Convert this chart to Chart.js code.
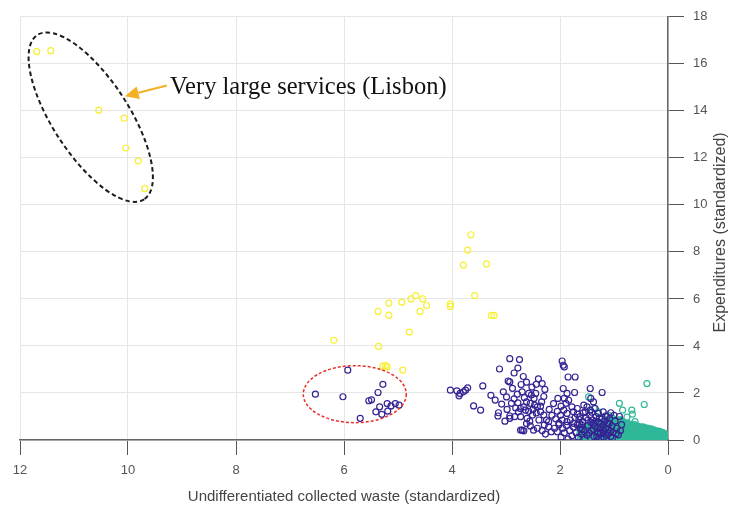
<!DOCTYPE html>
<html>
<head>
<meta charset="utf-8">
<script src="https://cdn.jsdelivr.net/npm/chart.js@4/dist/chart.umd.min.js"></script>
<style>
  html, body { margin: 0; padding: 0; background: #ffffff; }
  canvas { display: block; }
</style>
</head>
<body>
<canvas id="chart" width="730" height="513"></canvas>
<script>
// Cluster 3: very large / large services (x = waste, y = expenditures, standardized)
const largeServices = [
  [11.69, 16.52], [11.43, 16.56], [10.54, 14.03], [10.07, 13.69], [10.04, 12.42], [9.81, 11.87], [9.69, 10.69],
  [3.65, 8.73], [3.71, 8.08], [3.79, 7.44], [3.36, 7.49], [3.58, 6.14], [3.27, 5.30], [3.22, 5.30],
  [4.03, 5.79], [4.03, 5.68], [4.67, 6.14], [4.76, 6.00], [4.54, 6.00], [4.47, 5.72], [4.59, 5.47],
  [4.93, 5.86], [5.17, 5.82], [5.17, 5.31], [5.37, 5.47], [4.79, 4.59], [6.19, 4.24], [5.36, 3.98],
  [5.28, 3.14], [5.20, 3.11], [5.23, 3.16], [4.91, 2.97]
];

// Cluster 1: medium services
const mediumServices = [
  [5.93, 2.97], [6.53, 1.95], [6.02, 1.84], [5.28, 2.37], [5.37, 2.02], [5.54, 1.67], [5.49, 1.71], [5.70, 0.92],
  [5.34, 1.41], [5.20, 1.55], [5.13, 1.45], [5.05, 1.55], [4.98, 1.48], [5.41, 1.20], [5.30, 1.09], [5.19, 1.23],
  [4.03, 2.12], [3.91, 2.09], [3.85, 1.98], [3.79, 2.05], [3.75, 2.12], [3.71, 2.22], [3.87, 1.88], [3.43, 2.30],
  [3.60, 1.45], [3.47, 1.27], [3.12, 3.02], [2.93, 3.46], [2.75, 3.42], [2.78, 3.06], [2.96, 2.51], [2.93, 2.47],
  [2.72, 2.36], [2.62, 2.46], [2.40, 2.60], [2.44, 2.37], [3.14, 1.16], [3.15, 1.02], [3.08, 1.53], [2.99, 1.83],
  [2.93, 1.02], [2.90, 1.56], [2.79, 1.95], [2.78, 1.58], [2.82, 1.36], [2.77, 1.20], [2.73, 1.34], [2.67, 1.41],
  [2.64, 1.27], [2.58, 1.98], [2.53, 1.91], [2.48, 1.77], [2.45, 1.98], [2.62, 1.62], [2.55, 1.56], [2.47, 1.48],
  [2.42, 1.41], [2.36, 1.44], [2.28, 2.15], [2.36, 1.20], [2.30, 1.06], [2.25, 0.85], [2.21, 0.78], [2.73, 0.99],
  [2.61, 0.92], [2.51, 1.06], [2.39, 0.85], [2.93, 0.92], [2.84, 0.99], [2.73, 0.42], [2.70, 0.42], [2.67, 0.39],
  [2.49, 0.42], [2.42, 0.50], [2.27, 0.25], [2.29, 0.64], [2.21, 0.56], [2.10, 0.50], [2.04, 1.77], [1.96, 3.36],
  [1.94, 3.18], [1.92, 3.11], [1.85, 2.68], [1.72, 2.68], [1.94, 2.19], [1.87, 1.98], [1.84, 1.69], [1.89, 1.56],
  [1.92, 1.77], [1.73, 2.02], [1.98, 1.44], [1.93, 1.27], [1.87, 1.13], [1.78, 1.41], [1.75, 1.20], [1.68, 1.34],
  [1.63, 0.99], [1.56, 1.48], [1.53, 1.20], [1.96, 0.85], [1.87, 0.78], [1.81, 0.85], [1.75, 0.71], [1.68, 0.64],
  [1.60, 0.64], [1.44, 2.19], [1.22, 2.02], [1.43, 1.77], [1.38, 1.62], [1.50, 1.41], [1.44, 1.27], [1.35, 1.34],
  [1.29, 1.13], [1.20, 1.20], [1.13, 0.99], [1.06, 1.16], [1.38, 0.71], [1.25, 0.56], [1.20, 0.28], [1.32, 0.14],
  [3.20, 1.70], [3.05, 2.05], [2.88, 2.20], [2.70, 2.05], [2.66, 1.80], [2.85, 1.75], [2.58, 1.22], [2.50, 1.30],
  [2.44, 1.15], [2.56, 0.80], [2.34, 1.62], [2.30, 1.85], [2.20, 1.30], [2.15, 1.05], [2.12, 1.55], [2.08, 0.90],
  [2.05, 1.22], [2.02, 0.65], [1.99, 1.05], [2.16, 0.35], [2.33, 0.40], [2.55, 0.60], [2.62, 0.70], [2.98, 1.30],
  [3.02, 0.80], [3.28, 1.90], [2.52, 2.25], [2.68, 2.70], [2.85, 2.85], [2.33, 2.40],
  [1.70, 0.30], [1.66, 0.12], [1.62, 0.52], [1.58, 0.78], [1.55, 0.35], [1.52, 0.95], [1.50, 0.20], [1.48, 0.62],
  [1.45, 1.05], [1.42, 0.40], [1.40, 0.85], [1.37, 0.15], [1.35, 0.58], [1.33, 1.00], [1.30, 0.30], [1.28, 0.75],
  [1.26, 0.48], [1.24, 0.10], [1.22, 0.90], [1.20, 0.62], [1.18, 0.35], [1.16, 1.02], [1.14, 0.20], [1.12, 0.70],
  [1.10, 0.45], [1.08, 0.92], [1.06, 0.15], [1.04, 0.60], [1.02, 0.32], [0.98, 0.80], [0.95, 0.50], [0.92, 0.22],
  [0.90, 1.00], [0.86, 0.65], [1.75, 0.55], [1.78, 0.18], [1.82, 0.40], [1.85, 0.05], [1.88, 0.62], [1.92, 0.30],
  [1.95, 0.50], [1.98, 0.12], [2.02, 0.72], [2.05, 0.35], [1.72, 0.95], [1.68, 1.10], [1.64, 0.70], [1.60, 0.25],
  [1.57, 1.15], [1.54, 0.05], [1.46, 0.30], [1.43, 0.75], [1.38, 0.45], [1.34, 0.80], [1.29, 0.05], [1.25, 0.30],
  [1.19, 0.12], [1.15, 0.50], [1.11, 0.28], [1.07, 0.38], [1.03, 0.08], [1.65, 0.88], [1.59, 0.45], [1.48, 0.85],
  [1.41, 1.18], [1.31, 0.50], [1.27, 0.92], [1.21, 0.45], [1.17, 0.80], [1.09, 0.70], [1.00, 1.05], [0.96, 0.28],
  [0.88, 0.40]
];

// Cluster 2: small services (dense mass near the origin)
const smallServices = [
  [0.39, 2.40], [0.44, 1.51], [1.47, 1.83], [0.90, 1.56], [0.84, 1.27], [0.67, 1.27], [0.66, 1.10], [1.37, 1.34],
  [1.29, 1.20], [0.61, 0.78], [1.03, 0.93], [1.11, 1.06], [0.76, 0.97],
  [1.62, 0.05], [1.60, 0.18], [1.63, 0.30], [1.61, 0.42],
  [1.57, 0.10], [1.56, 0.24], [1.58, 0.36], [1.55, 0.50],
  [1.52, 0.03], [1.51, 0.16], [1.53, 0.29], [1.52, 0.41], [1.50, 0.55],
  [1.47, 0.08], [1.46, 0.21], [1.48, 0.34], [1.47, 0.47], [1.45, 0.60],
  [1.42, 0.02], [1.41, 0.14], [1.43, 0.27], [1.42, 0.39], [1.40, 0.52], [1.41, 0.64],
  [1.37, 0.07], [1.36, 0.19], [1.38, 0.32], [1.37, 0.45], [1.35, 0.57], [1.36, 0.68],
  [1.32, 0.04], [1.31, 0.15], [1.33, 0.28], [1.32, 0.40], [1.30, 0.53], [1.31, 0.66],
  [1.27, 0.09], [1.26, 0.22], [1.28, 0.35], [1.27, 0.48], [1.25, 0.61], [1.26, 0.72],
  [1.22, 0.03], [1.21, 0.16], [1.23, 0.29], [1.22, 0.42], [1.20, 0.55], [1.21, 0.68], [1.23, 0.76],
  [1.17, 0.08], [1.16, 0.21], [1.18, 0.34], [1.17, 0.46], [1.15, 0.59], [1.16, 0.71],
  [1.12, 0.02], [1.11, 0.14], [1.13, 0.27], [1.12, 0.40], [1.10, 0.53], [1.11, 0.66], [1.13, 0.79],
  [1.07, 0.07], [1.06, 0.19], [1.08, 0.32], [1.07, 0.45], [1.05, 0.58], [1.06, 0.70], [1.08, 0.81],
  [1.02, 0.04], [1.01, 0.16], [1.03, 0.29], [1.02, 0.42], [1.00, 0.55], [1.01, 0.67], [1.03, 0.80],
  [0.97, 0.09], [0.96, 0.22], [0.98, 0.35], [0.97, 0.48], [0.95, 0.61], [0.96, 0.74], [0.98, 0.84],
  [0.92, 0.03], [0.91, 0.15], [0.93, 0.28], [0.92, 0.41], [0.90, 0.54], [0.91, 0.67], [0.93, 0.80],
  [0.87, 0.08], [0.86, 0.20], [0.88, 0.33], [0.87, 0.46], [0.85, 0.59], [0.86, 0.72], [0.88, 0.83],
  [0.82, 0.02], [0.81, 0.14], [0.83, 0.27], [0.82, 0.40], [0.80, 0.53], [0.81, 0.66], [0.83, 0.77],
  [0.77, 0.07], [0.76, 0.19], [0.78, 0.32], [0.77, 0.45], [0.75, 0.58], [0.76, 0.71],
  [0.72, 0.04], [0.71, 0.16], [0.73, 0.29], [0.72, 0.42], [0.70, 0.55], [0.71, 0.68],
  [0.67, 0.09], [0.66, 0.21], [0.68, 0.34], [0.67, 0.47], [0.65, 0.60],
  [0.62, 0.03], [0.61, 0.15], [0.63, 0.28], [0.62, 0.41], [0.60, 0.54], [0.61, 0.64],
  [0.57, 0.08], [0.56, 0.20], [0.58, 0.33], [0.57, 0.46], [0.55, 0.58],
  [0.52, 0.02], [0.51, 0.14], [0.53, 0.27], [0.52, 0.40], [0.50, 0.53],
  [0.47, 0.07], [0.46, 0.19], [0.48, 0.32], [0.47, 0.45], [0.45, 0.55],
  [0.42, 0.04], [0.41, 0.16], [0.43, 0.29], [0.42, 0.42], [0.40, 0.50],
  [0.37, 0.09], [0.36, 0.21], [0.38, 0.34], [0.37, 0.47],
  [0.32, 0.03], [0.31, 0.15], [0.33, 0.28], [0.32, 0.41], [0.30, 0.46],
  [0.27, 0.08], [0.26, 0.20], [0.28, 0.33], [0.27, 0.43],
  [0.22, 0.02], [0.21, 0.14], [0.23, 0.27], [0.22, 0.39],
  [0.17, 0.07], [0.16, 0.19], [0.18, 0.31], [0.17, 0.38],
  [0.12, 0.04], [0.11, 0.16], [0.13, 0.27], [0.12, 0.34],
  [0.07, 0.09], [0.06, 0.20], [0.08, 0.29],
  [0.03, 0.03], [0.02, 0.14], [0.04, 0.22],
  [1.59, 0.00], [1.59, 0.12], [1.60, 0.24], [1.58, 0.36],
  [1.54, 0.04], [1.55, 0.17], [1.54, 0.30], [1.53, 0.44],
  [1.49, 0.10], [1.50, 0.22], [1.49, 0.35], [1.50, 0.48],
  [1.44, 0.02], [1.45, 0.15], [1.44, 0.28], [1.45, 0.41], [1.43, 0.54],
  [1.39, 0.08], [1.40, 0.21], [1.39, 0.33], [1.40, 0.46], [1.38, 0.59],
  [1.34, 0.01], [1.35, 0.13], [1.34, 0.26], [1.35, 0.38], [1.33, 0.51], [1.34, 0.63],
  [1.29, 0.06], [1.30, 0.18], [1.29, 0.31], [1.30, 0.44], [1.28, 0.57], [1.29, 0.67],
  [1.24, 0.02], [1.25, 0.14], [1.24, 0.27], [1.25, 0.40], [1.23, 0.53], [1.24, 0.66], [1.25, 0.72],
  [1.19, 0.09], [1.20, 0.22], [1.19, 0.35], [1.20, 0.48], [1.18, 0.61], [1.19, 0.74],
  [1.14, 0.05], [1.15, 0.17], [1.14, 0.30], [1.15, 0.43], [1.13, 0.56], [1.14, 0.69], [1.15, 0.77],
  [1.09, 0.00], [1.10, 0.12], [1.09, 0.25], [1.10, 0.38], [1.08, 0.51], [1.09, 0.64], [1.10, 0.76],
  [1.04, 0.10], [1.05, 0.23], [1.04, 0.36], [1.05, 0.49], [1.03, 0.62], [1.04, 0.74], [1.05, 0.83],
  [0.99, 0.02], [1.00, 0.14], [0.99, 0.27], [1.00, 0.40], [0.98, 0.53], [0.99, 0.66], [1.00, 0.78], [0.99, 0.86],
  [0.94, 0.08], [0.95, 0.21], [0.94, 0.34], [0.95, 0.47], [0.93, 0.60], [0.94, 0.73], [0.95, 0.84],
  [0.89, 0.01], [0.90, 0.13], [0.89, 0.26], [0.90, 0.39], [0.88, 0.52], [0.89, 0.65], [0.90, 0.78], [0.89, 0.87],
  [0.84, 0.06], [0.85, 0.19], [0.84, 0.32], [0.85, 0.45], [0.83, 0.58], [0.84, 0.71], [0.85, 0.81],
  [0.79, 0.02], [0.80, 0.13], [0.79, 0.26], [0.80, 0.39], [0.78, 0.52], [0.79, 0.64], [0.80, 0.74],
  [0.74, 0.09], [0.75, 0.22], [0.74, 0.35], [0.75, 0.48], [0.73, 0.61], [0.74, 0.70],
  [0.69, 0.01], [0.70, 0.13], [0.69, 0.26], [0.70, 0.39], [0.68, 0.51], [0.69, 0.63],
  [0.64, 0.06], [0.65, 0.18], [0.64, 0.31], [0.65, 0.44], [0.63, 0.56], [0.64, 0.66],
  [0.59, 0.00], [0.60, 0.12], [0.59, 0.25], [0.60, 0.38], [0.58, 0.50], [0.59, 0.60],
  [0.54, 0.05], [0.55, 0.17], [0.54, 0.30], [0.55, 0.43], [0.53, 0.55],
  [0.49, 0.10], [0.50, 0.22], [0.49, 0.35], [0.50, 0.47], [0.48, 0.56],
  [0.44, 0.01], [0.45, 0.13], [0.44, 0.26], [0.45, 0.38], [0.43, 0.49],
  [0.39, 0.06], [0.40, 0.18], [0.39, 0.31], [0.40, 0.43], [0.38, 0.51],
  [0.34, 0.00], [0.35, 0.12], [0.34, 0.25], [0.35, 0.37], [0.33, 0.47],
  [0.29, 0.05], [0.30, 0.17], [0.29, 0.30], [0.30, 0.42],
  [0.24, 0.10], [0.25, 0.22], [0.24, 0.34], [0.25, 0.41],
  [0.19, 0.01], [0.20, 0.12], [0.19, 0.24], [0.20, 0.35],
  [0.14, 0.05], [0.15, 0.17], [0.14, 0.29], [0.15, 0.36],
  [0.09, 0.00], [0.10, 0.12], [0.09, 0.24], [0.10, 0.31],
  [0.05, 0.06], [0.04, 0.17], [0.05, 0.26],
  [0.01, 0.02], [0.01, 0.10], [0.01, 0.18]
];

// Axis ticks
const xTicks = [0, 2, 4, 6, 8, 10, 12];
const yTicks = [0, 2, 4, 6, 8, 10, 12, 14, 16, 18];

const xTitle = 'Undifferentiated collected waste (standardized)';
const yTitle = 'Expenditures (standardized)';
const calloutText = 'Very large services (Lisbon)';

const toPoints = arr => arr.map(([x, y]) => ({ x, y }));

// Callout shapes, anchored in data coordinates; sizes in pixels
const callouts = {
  lisbon:  { cx: 10.69, cy: 13.73, rx: 98, ry: 38, rot: 57 * Math.PI / 180, color: '#1c1c1c', dash: [4.5, 3], width: 2 },
  medium:  { cx: 5.80, cy: 1.95, rx: 51.5, ry: 28.5, rot: 0, color: '#e8302a', dash: [3, 2], width: 1.5 },
  arrow:   { fromX: 9.28, fromY: 15.08, toX: 10.06, toY: 14.62, color: '#f4b125' },
  label:   { x: 9.22, y: 14.70 }
};

const calloutPlugin = {
  id: 'callouts',
  afterDatasetsDraw(chart) {
    const { ctx, scales: { x, y } } = chart;
    ctx.save();
    for (const key of ['lisbon', 'medium']) {
      const e = callouts[key];
      ctx.beginPath();
      ctx.setLineDash(e.dash);
      ctx.lineWidth = e.width;
      ctx.strokeStyle = e.color;
      ctx.ellipse(x.getPixelForValue(e.cx), y.getPixelForValue(e.cy), e.rx, e.ry, e.rot, 0, Math.PI * 2);
      ctx.stroke();
    }
    ctx.setLineDash([]);

    // arrow
    const a = callouts.arrow;
    const x0 = x.getPixelForValue(a.fromX), y0 = y.getPixelForValue(a.fromY);
    const x1 = x.getPixelForValue(a.toX), y1 = y.getPixelForValue(a.toY);
    const ang = Math.atan2(y1 - y0, x1 - x0);
    const headLen = 14, headHalf = 6.5;
    const bx = x1 - headLen * Math.cos(ang), by = y1 - headLen * Math.sin(ang);
    ctx.strokeStyle = a.color;
    ctx.fillStyle = a.color;
    ctx.lineWidth = 2;
    ctx.beginPath();
    ctx.moveTo(x0, y0);
    ctx.lineTo(bx, by);
    ctx.stroke();
    ctx.beginPath();
    ctx.moveTo(x1, y1);
    ctx.lineTo(bx + headHalf * Math.sin(ang), by - headHalf * Math.cos(ang));
    ctx.lineTo(bx - headHalf * Math.sin(ang), by + headHalf * Math.cos(ang));
    ctx.closePath();
    ctx.fill();

    // label
    ctx.fillStyle = '#111111';
    ctx.font = '24.5px "Liberation Serif", "DejaVu Serif", serif';
    ctx.textAlign = 'left';
    ctx.textBaseline = 'alphabetic';
    ctx.fillText(calloutText, x.getPixelForValue(callouts.label.x), y.getPixelForValue(callouts.label.y));
    ctx.restore();
  },
  afterDraw(chart) {
    // vertical axis title, reading bottom to top
    const { ctx, chartArea } = chart;
    ctx.save();
    ctx.translate(721, (chartArea.top + chartArea.bottom) / 2 + 4);
    ctx.rotate(-Math.PI / 2);
    ctx.fillStyle = '#444444';
    ctx.font = '16px "Liberation Sans", Arial, sans-serif';
    ctx.textAlign = 'center';
    ctx.textBaseline = 'middle';
    ctx.fillText(yTitle, 0, 0);
    ctx.restore();
  }
};

const ringStyle = (color) => ({
  showLine: false,
  pointStyle: 'circle',
  pointRadius: 3,
  pointHoverRadius: 3,
  borderWidth: 1.2,
  pointBorderWidth: 1.2,
  borderColor: color,
  pointBorderColor: color,
  backgroundColor: 'rgba(0,0,0,0)',
  pointBackgroundColor: 'rgba(0,0,0,0)'
});

Chart.defaults.font.family = '"Liberation Sans", Arial, sans-serif';

new Chart(document.getElementById('chart'), {
  type: 'scatter',
  data: {
    datasets: [
      { label: 'Large', data: toPoints(largeServices), order: 0, ...ringStyle('rgb(246,240,52)') },
      { label: 'Medium', data: toPoints(mediumServices), order: 1, ...ringStyle('rgb(52,36,148)') },
      { label: 'Small', data: toPoints(smallServices), order: 2, ...ringStyle('rgb(48,184,152)') }
    ]
  },
  options: {
    responsive: false,
    animation: false,
    devicePixelRatio: 1,
    layout: { padding: { left: 20, top: 14, right: 0, bottom: 0 } },
    plugins: { legend: { display: false }, tooltip: { enabled: false } },
    scales: {
      x: {
        type: 'linear',
        position: 'bottom',
        reverse: true,
        min: 0,
        max: 12,
        afterBuildTicks: s => { s.ticks = xTicks.map(v => ({ value: v })); },
        afterFit: s => { s.height = 73; },
        ticks: { color: '#555555', font: { size: 13 }, padding: 8, maxRotation: 0 },
        grid: { color: '#e6e6e6', lineWidth: 1, tickColor: '#555555', tickLength: 15, drawTicks: true },
        border: { display: true, color: '#666666', width: 1.5 },
        title: { display: true, text: xTitle, color: '#444444', font: { size: 15 }, padding: { top: 0, bottom: 7 } }
      },
      y: {
        type: 'linear',
        position: 'right',
        min: 0,
        max: 18,
        afterBuildTicks: s => { s.ticks = yTicks.map(v => ({ value: v })); },
        afterFit: s => { s.width = 62; },
        ticks: { color: '#555555', font: { size: 13 }, padding: 9 },
        grid: { color: '#e6e6e6', lineWidth: 1, tickColor: '#555555', tickLength: 16, drawTicks: true },
        border: { display: true, color: '#666666', width: 1.5 }
      }
    }
  },
  plugins: [calloutPlugin]
});
</script>
</body>
</html>
